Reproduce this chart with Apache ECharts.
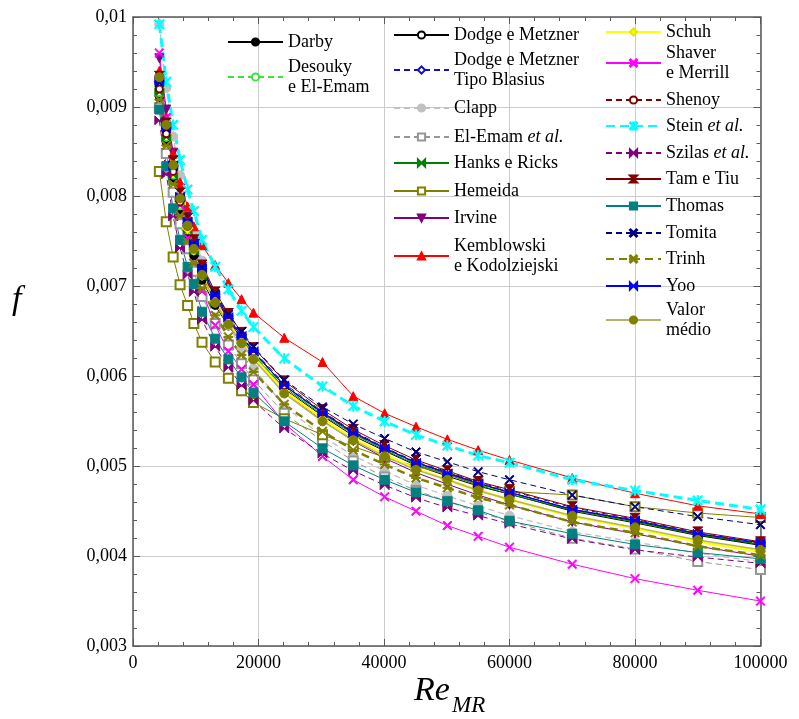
<!DOCTYPE html>
<html>
<head>
<meta charset="utf-8">
<script src="https://cdn.jsdelivr.net/npm/echarts@6/dist/echarts.min.js"></script>
<style>
  html, body { margin: 0; padding: 0; background: #ffffff; }
  #chart { width: 799px; height: 719px; }
</style>
</head>
<body>
<div id="chart"></div>
<script>
// Reynolds numbers (Re_MR) of the evaluated points
const RE = [4200, 5300, 6400, 7500, 8700, 9700, 11000, 13100, 15200, 17300, 19200, 24100,
            30200, 35100, 40100, 45100, 50100, 55000, 60000, 70000, 80000, 90000, 100000];

// Fanning friction factor f from each correlation
const darby      = [0.00910, 0.00861, 0.00819, 0.00785, 0.00757, 0.00734, 0.00707, 0.00679, 0.00656, 0.00638, 0.00621, 0.00586, 0.00556, 0.00534, 0.00517, 0.00501, 0.00489, 0.00478, 0.00469, 0.00450, 0.00437, 0.00423, 0.00412];
const desouky    = [0.00916, 0.00866, 0.00824, 0.00790, 0.00763, 0.00740, 0.00712, 0.00684, 0.00661, 0.00642, 0.00625, 0.00589, 0.00559, 0.00537, 0.00519, 0.00503, 0.00492, 0.00480, 0.00470, 0.00452, 0.00439, 0.00425, 0.00414];
const dodge      = [0.00922, 0.00872, 0.00830, 0.00795, 0.00768, 0.00745, 0.00717, 0.00688, 0.00664, 0.00645, 0.00627, 0.00590, 0.00560, 0.00538, 0.00520, 0.00504, 0.00493, 0.00481, 0.00471, 0.00452, 0.00439, 0.00424, 0.00413];
const dodgeBlas  = [0.00927, 0.00876, 0.00834, 0.00799, 0.00772, 0.00748, 0.00720, 0.00691, 0.00667, 0.00647, 0.00629, 0.00592, 0.00561, 0.00539, 0.00521, 0.00505, 0.00494, 0.00482, 0.00473, 0.00454, 0.00441, 0.00426, 0.00415];
const clapp      = [0.00992, 0.00921, 0.00867, 0.00824, 0.00786, 0.00759, 0.00729, 0.00689, 0.00657, 0.00631, 0.00609, 0.00567, 0.00533, 0.00512, 0.00495, 0.00479, 0.00467, 0.00456, 0.00445, 0.00427, 0.00416, 0.00403, 0.00394];
const elEmam     = [0.00899, 0.00848, 0.00805, 0.00770, 0.00742, 0.00717, 0.00689, 0.00659, 0.00635, 0.00614, 0.00596, 0.00559, 0.00528, 0.00506, 0.00488, 0.00473, 0.00461, 0.00449, 0.00439, 0.00420, 0.00408, 0.00394, 0.00385];
const hanks      = [0.00916, 0.00866, 0.00824, 0.00790, 0.00763, 0.00740, 0.00712, 0.00683, 0.00660, 0.00641, 0.00623, 0.00588, 0.00557, 0.00536, 0.00518, 0.00502, 0.00491, 0.00479, 0.00469, 0.00451, 0.00438, 0.00424, 0.00413];
const hemeida    = [0.00828, 0.00772, 0.00733, 0.00702, 0.00679, 0.00659, 0.00638, 0.00616, 0.00598, 0.00584, 0.00571, 0.00553, 0.00535, 0.00522, 0.00510, 0.00500, 0.00491, 0.00480, 0.00472, 0.00468, 0.00455, 0.00448, 0.00443];
const irvine     = [0.00954, 0.00897, 0.00849, 0.00809, 0.00778, 0.00751, 0.00722, 0.00689, 0.00663, 0.00642, 0.00622, 0.00583, 0.00551, 0.00528, 0.00509, 0.00493, 0.00480, 0.00468, 0.00457, 0.00438, 0.00425, 0.00411, 0.00400];
const kemblowski = [0.00940, 0.00888, 0.00848, 0.00816, 0.00789, 0.00767, 0.00746, 0.00724, 0.00704, 0.00686, 0.00671, 0.00643, 0.00616, 0.00578, 0.00559, 0.00544, 0.00530, 0.00518, 0.00507, 0.00487, 0.00470, 0.00456, 0.00447];
const schuh      = [0.00922, 0.00871, 0.00828, 0.00793, 0.00765, 0.00741, 0.00713, 0.00683, 0.00659, 0.00639, 0.00621, 0.00584, 0.00553, 0.00531, 0.00513, 0.00497, 0.00485, 0.00473, 0.00463, 0.00444, 0.00431, 0.00416, 0.00405];
const shaver     = [0.00960, 0.00888, 0.00834, 0.00791, 0.00754, 0.00726, 0.00695, 0.00657, 0.00628, 0.00608, 0.00591, 0.00548, 0.00511, 0.00485, 0.00466, 0.00450, 0.00434, 0.00422, 0.00410, 0.00391, 0.00375, 0.00362, 0.00350];
const shenoy     = [0.00920, 0.00870, 0.00828, 0.00794, 0.00767, 0.00743, 0.00716, 0.00687, 0.00664, 0.00644, 0.00627, 0.00590, 0.00560, 0.00538, 0.00520, 0.00504, 0.00493, 0.00481, 0.00471, 0.00452, 0.00440, 0.00425, 0.00414];
const stein      = [0.00992, 0.00928, 0.00880, 0.00841, 0.00808, 0.00784, 0.00752, 0.00722, 0.00697, 0.00673, 0.00655, 0.00620, 0.00589, 0.00567, 0.00550, 0.00535, 0.00523, 0.00512, 0.00504, 0.00485, 0.00473, 0.00462, 0.00452];
const szilas     = [0.00885, 0.00825, 0.00778, 0.00743, 0.00713, 0.00694, 0.00663, 0.00633, 0.00610, 0.00590, 0.00573, 0.00542, 0.00514, 0.00495, 0.00479, 0.00465, 0.00454, 0.00445, 0.00436, 0.00419, 0.00407, 0.00399, 0.00392];
const tamTiu     = [0.00934, 0.00882, 0.00840, 0.00804, 0.00776, 0.00752, 0.00724, 0.00694, 0.00670, 0.00649, 0.00632, 0.00595, 0.00563, 0.00541, 0.00523, 0.00507, 0.00495, 0.00483, 0.00474, 0.00455, 0.00442, 0.00427, 0.00416];
const thomas     = [0.00897, 0.00834, 0.00787, 0.00752, 0.00722, 0.00703, 0.00672, 0.00642, 0.00619, 0.00599, 0.00582, 0.00550, 0.00520, 0.00501, 0.00485, 0.00471, 0.00461, 0.00451, 0.00439, 0.00425, 0.00413, 0.00404, 0.00397];
const tomita     = [0.00927, 0.00876, 0.00834, 0.00799, 0.00772, 0.00748, 0.00721, 0.00692, 0.00669, 0.00650, 0.00633, 0.00596, 0.00566, 0.00547, 0.00531, 0.00516, 0.00505, 0.00494, 0.00485, 0.00468, 0.00455, 0.00444, 0.00435];
const trinh      = [0.00908, 0.00857, 0.00814, 0.00779, 0.00750, 0.00726, 0.00698, 0.00668, 0.00644, 0.00624, 0.00605, 0.00569, 0.00539, 0.00518, 0.00502, 0.00487, 0.00476, 0.00465, 0.00457, 0.00438, 0.00426, 0.00411, 0.00401];
const yoo        = [0.00929, 0.00878, 0.00835, 0.00800, 0.00772, 0.00748, 0.00720, 0.00690, 0.00666, 0.00645, 0.00628, 0.00590, 0.00559, 0.00537, 0.00520, 0.00504, 0.00492, 0.00481, 0.00471, 0.00452, 0.00440, 0.00425, 0.00415];
const valorMedio = [0.00933, 0.00880, 0.00835, 0.00798, 0.00768, 0.00742, 0.00713, 0.00682, 0.00658, 0.00637, 0.00619, 0.00581, 0.00550, 0.00529, 0.00511, 0.00496, 0.00485, 0.00473, 0.00463, 0.00445, 0.00432, 0.00418, 0.00407];

// Axis ranges and tick spacing
const X_RANGE = [0, 100000], X_STEP = 20000;
const Y_RANGE = [0.003, 0.01], Y_STEP = 0.001;

const SERIF = "'Liberation Serif', 'Times New Roman', serif";

// Marker shapes
const SYM = {
  cross:     'path://M1,0L5,4L9,0L10,1L6,5L10,9L9,10L5,6L1,10L0,9L4,5L0,1Z',
  crossBar:  'path://M1,0L5,4L9,0L10,1L6,5L10,9L9,10L5,6L1,10L0,9L4,5L0,1Z M4.4,0L5.6,0L5.6,10L4.4,10Z',
  crossDash: 'path://M1,0L5,4L9,0L10,1L6,5L10,9L9,10L5,6L1,10L0,9L4,5L0,1Z M0,4.4L10,4.4L10,5.6L0,5.6Z',
  bowtie:    'path://M0,0L5,5L0,10Z M10,0L10,10L5,5Z',
  hourglass: 'path://M0,0L10,0L5,5Z M5,5L10,10L0,10Z'
};

function line(name, vals, o) {
  return {
    type: 'line',
    name: name,
    data: RE.map((x, i) => [x, vals[i]]),
    symbol: o.symbol,
    symbolSize: o.size || 8,
    symbolRotate: o.rotate || 0,
    showAllSymbol: true,
    smooth: false,
    lineStyle: { color: o.line || o.color, width: o.width || 1, type: o.dash || 'solid' },
    itemStyle: { color: o.color, borderColor: o.border || o.color, borderWidth: o.bw || 1 },
    emphasis: { disabled: true },
    z: o.z || 2
  };
}

const series = [
  line('Darby', darby, { color: '#000000', symbol: 'circle', size: 8 }),
  line('Desouky\ne El-Emam', desouky, { color: '#3ee23e', symbol: 'emptyCircle', size: 7, dash: [6, 4], width: 1.3 }),
  line('Dodge e Metzner', dodge, { color: '#000000', symbol: 'emptyCircle', size: 7 }),
  line('Dodge e Metzner\nTipo Blasius', dodgeBlas, { color: '#1010c8', symbol: 'emptyDiamond', size: 8, dash: [6, 4] }),
  line('Clapp', clapp, { color: '#c0c0c0', symbol: 'circle', size: 9, dash: [6, 4], width: 1.3 }),
  line('El-Emam et al.', elEmam, { color: '#969696', symbol: 'emptyRect', size: 9, dash: [6, 4] }),
  line('Hanks e Ricks', hanks, { color: '#008000', symbol: SYM.bowtie, size: 9 }),
  line('Hemeida', hemeida, { color: '#808000', symbol: 'emptyRect', size: 9 }),
  line('Irvine', irvine, { color: '#800080', symbol: 'triangle', rotate: 180, size: 9 }),
  line('Kemblowski\ne Kodolziejski', kemblowski, { color: '#ff0000', symbol: 'triangle', size: 9 }),
  line('Schuh', schuh, { color: '#ffff00', symbol: 'diamond', size: 11, width: 2.5, border: '#e6e600' }),
  line('Shaver\ne Merrill', shaver, { color: '#ff00ff', symbol: SYM.cross, size: 9 }),
  line('Shenoy', shenoy, { color: '#800000', symbol: 'emptyCircle', size: 7, dash: [6, 4] }),
  line('Stein et al.', stein, { color: '#00ffff', symbol: SYM.crossBar, size: 10, width: 3, dash: [9, 5] }),
  line('Szilas et al.', szilas, { color: '#800080', symbol: SYM.bowtie, size: 9, dash: [6, 4] }),
  line('Tam e Tiu', tamTiu, { color: '#800000', symbol: SYM.hourglass, size: 10 }),
  line('Thomas', thomas, { color: '#008080', symbol: 'rect', size: 9 }),
  line('Tomita', tomita, { color: '#000080', symbol: SYM.cross, size: 9, dash: [6, 4] }),
  line('Trinh', trinh, { color: '#808000', symbol: SYM.crossDash, size: 9, width: 2.5, dash: [8, 5] }),
  line('Yoo', yoo, { color: '#0000ff', symbol: SYM.bowtie, size: 9 }),
  line('Valor\nmédio', valorMedio, { color: '#808000', line: '#b4b464', symbol: 'circle', size: 9, width: 1.5 })
];

// Legend entries: name, icon left edge, vertical centre
const LEGEND_LAYOUT = [
  ['Darby', 227, 42], ['Desouky\ne El-Emam', 227, 77],
  ['Dodge e Metzner', 393, 35], ['Dodge e Metzner\nTipo Blasius', 393, 70], ['Clapp', 393, 108],
  ['El-Emam et al.', 393, 137], ['Hanks e Ricks', 393, 163], ['Hemeida', 393, 191],
  ['Irvine', 393, 218], ['Kemblowski\ne Kodolziejski', 393, 256],
  ['Schuh', 605, 32], ['Shaver\ne Merrill', 605, 63], ['Shenoy', 605, 100], ['Stein et al.', 605, 126],
  ['Szilas et al.', 605, 153], ['Tam e Tiu', 605, 179], ['Thomas', 605, 206], ['Tomita', 605, 233],
  ['Trinh', 605, 259], ['Yoo', 605, 286], ['Valor\nmédio', 605, 320]
];
const LINE_H = 20;
const legends = LEGEND_LAYOUT.map(([name, left, cy]) => {
  const lines = name.split('\n').length;
  return {
    data: [name],
    left: left,
    top: cy - lines * LINE_H / 2,
    padding: 0,
    itemWidth: 55,
    itemHeight: 9,
    itemGap: 0,
    selectedMode: false,
    textStyle: {
      fontFamily: SERIF, fontSize: 18, color: '#000', lineHeight: LINE_H,
      rich: { i: { fontFamily: SERIF, fontSize: 18, fontStyle: 'italic', color: '#000', lineHeight: LINE_H } }
    },
    formatter: n => n.replace('et al.', '{i|et al.}')
  };
});

const axisCommonX = {
  type: 'value', min: X_RANGE[0], max: X_RANGE[1], interval: X_STEP,
  axisLine: { show: true, onZero: false, lineStyle: { color: '#5a5a5a', width: 1.5 } },
  axisTick: { show: true, inside: true, length: 7, lineStyle: { color: '#5a5a5a' } },
  minorTick: { show: true, splitNumber: 5, length: 4, lineStyle: { color: '#5a5a5a' } }
};
const axisCommonY = {
  type: 'value', min: Y_RANGE[0], max: Y_RANGE[1], interval: Y_STEP,
  axisLine: { show: true, onZero: false, lineStyle: { color: '#5a5a5a', width: 1.5 } },
  axisTick: { show: true, inside: true, length: 7, lineStyle: { color: '#5a5a5a' } },
  minorTick: { show: true, splitNumber: 5, length: 4, lineStyle: { color: '#5a5a5a' } }
};

const option = {
  animation: false,
  backgroundColor: '#ffffff',
  grid: { left: 133, right: 38.5, top: 17, bottom: 73, containLabel: false },
  legend: legends,
  xAxis: [
    Object.assign({}, axisCommonX, {
      position: 'bottom',
      splitLine: { show: true, lineStyle: { color: '#cccccc', width: 1 } },
      axisLabel: { show: true, margin: 8, fontFamily: SERIF, fontSize: 18, color: '#000',
                   formatter: v => String(v) }
    }),
    Object.assign({}, axisCommonX, {
      position: 'top', splitLine: { show: false }, axisLabel: { show: false }
    })
  ],
  yAxis: [
    Object.assign({}, axisCommonY, {
      position: 'left',
      splitLine: { show: true, lineStyle: { color: '#cccccc', width: 1 } },
      axisLabel: { show: true, margin: 6, fontFamily: SERIF, fontSize: 18, color: '#000',
                   formatter: v => String(Math.round(v * 1000) / 1000).replace('.', ',') }
    }),
    Object.assign({}, axisCommonY, {
      position: 'right', splitLine: { show: false }, axisLabel: { show: false }
    })
  ],
  graphic: [
    { type: 'text', left: 12, top: 283,
      style: { text: 'f', fontFamily: SERIF, fontSize: 34, fontStyle: 'italic', fill: '#000' } },
    { type: 'text', left: 414, top: 674,
      style: { text: 'Re', fontFamily: SERIF, fontSize: 34, fontStyle: 'italic', fill: '#000' } },
    { type: 'text', left: 452, top: 694,
      style: { text: 'MR', fontFamily: SERIF, fontSize: 23, fontStyle: 'italic', fill: '#000' } }
  ],
  series: series
};

const chart = echarts.init(document.getElementById('chart'), null, { renderer: 'canvas' });
chart.setOption(option);
</script>
</body>
</html>
